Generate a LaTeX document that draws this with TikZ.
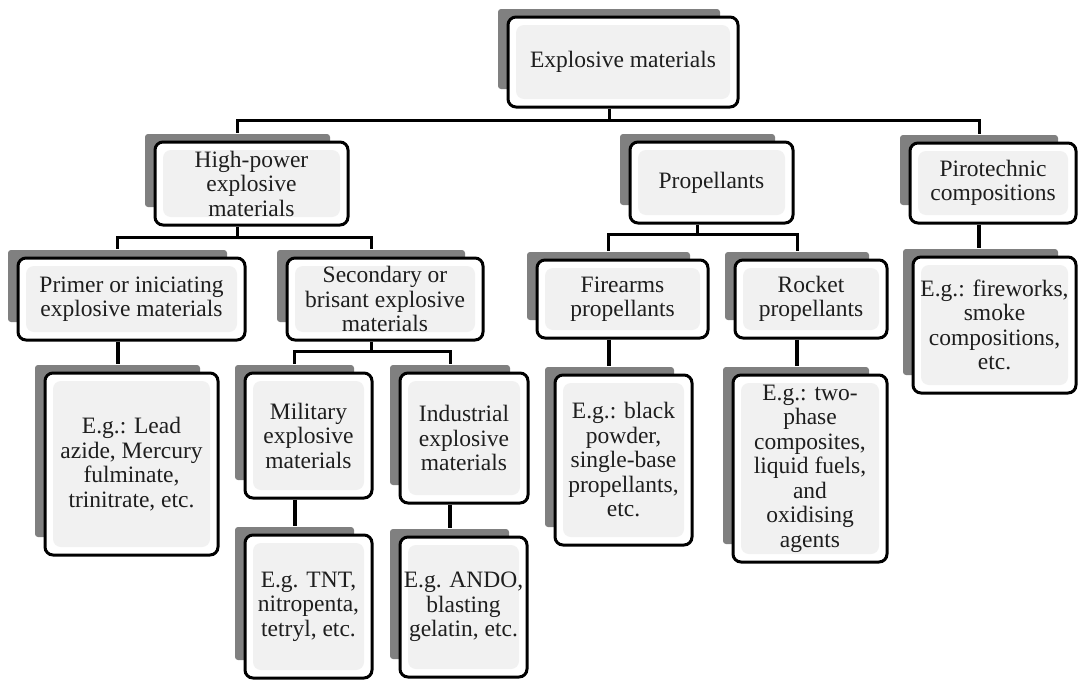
\documentclass[tikz,border=0pt]{standalone}
\usepackage{fontspec}
\setmainfont{Liberation Serif}
\usetikzlibrary{calc}
\definecolor{shadowc}{HTML}{808080}
\definecolor{txt}{HTML}{1E1E1E}
\definecolor{patch}{HTML}{F1F1F1}
\tikzset{
  ebox/.style={draw=black, line width=3pt, rounded corners=8pt, fill=white,
    align=center, inner sep=0pt, text=txt,
    font=\fontsize{23.5}{24.5}\selectfont,
    path picture={\fill[patch] ($(path picture bounding box.north west)+(8pt,-8pt)$)
      rectangle ($(path picture bounding box.south east)+(-8pt,8pt)$);}},
  sbox/.style={fill=shadowc, rounded corners=3pt},
  bar/.style={line width=3pt, draw=black},
  dropline/.style={line width=4pt, draw=black}
}
\newcommand\mkbox[6]{%
  \pgfmathsetmacro\bxw{#4-#2}\pgfmathsetmacro\bxh{#5-#3}%
  \pgfmathsetmacro\bxx{(#2+#4)/2}\pgfmathsetmacro\bxy{(#3+#5)/2}%
  \fill[sbox] (#2-10,#3-8) rectangle (#4-18,#5-18);
  \node[ebox, minimum width=\bxw pt, minimum height=\bxh pt] (#1) at (\bxx,\bxy) {#6};}
\newcommand\mkdrop[2]{%
  \coordinate (#1-b) at ($(#1.south)+(-14pt,0)$);
  \draw[dropline] (#1-b) -- ($(#1-b |- #2.north)+(0,8pt)$);}
\begin{document}
\begin{tikzpicture}[x=1pt,y=-1pt]
\useasboundingbox (0,0) rectangle (1078,680);
\fill[white] (0,0) rectangle (1078,680);

\mkbox{top}{508}{17}{738}{107}{Explosive materials}
\mkbox{hpe}{155}{142}{348}{225}{High-power\\explosive\\materials}
\mkbox{prop}{630}{142}{793}{223}{Propellants}
\mkbox{piro}{910}{143}{1076}{223}{Pirotechnic\\compositions}
\mkbox{primer}{18}{258}{245}{340}{Primer or iniciating\\explosive materials}
\mkbox{sec}{287}{258}{483}{340}{Secondary or\\brisant explosive\\materials}
\mkbox{fire}{537}{260}{708}{338}{Firearms\\propellants}
\mkbox{rocket}{735}{260}{887}{338}{Rocket\\propellants}
\mkbox{piroeg}{913}{257}{1076}{393}{E.g.: fireworks,\\smoke\\compositions,\\etc.}
\mkbox{lead}{45}{373}{218}{555}{E.g.: Lead\\azide, Mercury\\fulminate,\\trinitrate, etc.}
\mkbox{mil}{245}{373}{372}{498}{Military\\explosive\\materials}
\mkbox{ind}{400}{373}{528}{503}{Industrial\\explosive\\materials}
\mkbox{fireeg}{555}{375}{692}{545}{E.g.: black\\powder,\\single-base\\propellants,\\etc.}
\mkbox{rocketeg}{733}{375}{887}{562}{E.g.: two-\\phase\\composites,\\liquid fuels,\\and\\oxidising\\agents}
\mkbox{tnt}{245}{535}{372}{678}{E.g. TNT,\\nitropenta,\\tetryl, etc.}
\mkbox{ando}{400}{537}{527}{677}{E.g. ANDO,\\blasting\\gelatin, etc.}

% level 1
\coordinate (topb) at ($(top.south)+(-14pt,0)$);
\draw[bar] (topb) -- ++(0,-12pt) coordinate (topbar);
\draw[bar] ($(hpe.north)+(-14pt,8pt)$) |- (topbar) -| ($(piro.north)+(-14pt,8pt)$);
\draw[bar] ($(prop.north)+(-14pt,8pt)$) -- ($(prop.north)+(-14pt,8pt)$ |- topbar);

% high-power
\coordinate (hpeb) at ($(hpe.south)+(-14pt,0)$);
\draw[bar] (hpeb) -- ++(0,-11pt) coordinate (hpebar);
\draw[bar] ($(primer.north)+(-14pt,8pt)$) |- (hpebar) -| ($(sec.north)+(-14pt,8pt)$);

% secondary
\coordinate (secb) at ($(sec.south)+(-14pt,0)$);
\draw[bar] (secb) -- ++(0,-10pt) coordinate (secbar);
\draw[bar] ($(mil.north)+(-14pt,8pt)$) |- (secbar) -| ($(ind.north)+(-14pt,8pt)$);

% propellants
\coordinate (propb) at ($(prop.south)+(-14pt,0)$);
\draw[bar] (propb) -- ++(0,-10pt) coordinate (propbar);
\draw[bar] ($(fire.north)+(-14pt,8pt)$) |- (propbar) -| ($(rocket.north)+(-14pt,8pt)$);

% single drops
\mkdrop{primer}{lead}
\mkdrop{mil}{tnt}
\mkdrop{ind}{ando}
\mkdrop{fire}{fireeg}
\mkdrop{rocket}{rocketeg}
\mkdrop{piro}{piroeg}
\end{tikzpicture}
\end{document}
